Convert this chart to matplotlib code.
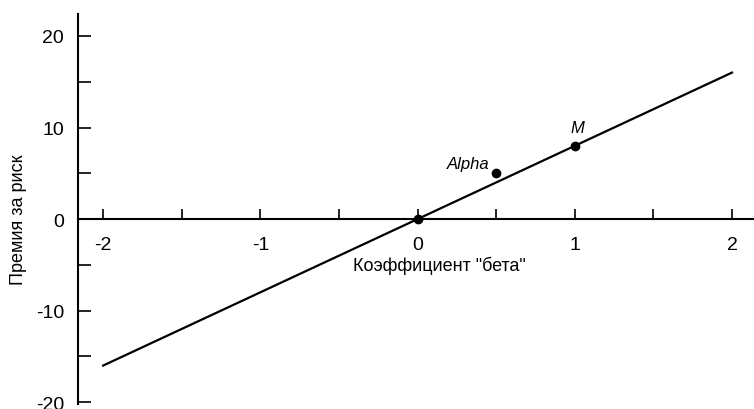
import matplotlib.pyplot as plt
from matplotlib.ticker import MultipleLocator

plt.rcParams['font.family'] = ['Liberation Sans Narrow', 'Liberation Sans', 'DejaVu Sans']
plt.rcParams['axes.unicode_minus'] = False

# data
line_x = [-2, 2]
line_y = [-16, 16]
points_x = [0, 0.5, 1]
points_y = [0, 5, 8]
point_names = ['', 'Alpha', 'M']

fig = plt.figure(figsize=(7.54, 4.10), dpi=100)
ax = fig.add_axes([78 / 754, 5 / 410, 676 / 754, 390 / 410])

ax.plot(line_x, line_y, color='black', lw=1.6)
ax.plot(points_x, points_y, 'o', color='black', ms=6)

# point labels
ax.annotate(point_names[1], (points_x[1], points_y[1]), textcoords='offset points',
            xytext=(-5, 2), ha='right', va='bottom', style='italic', fontsize=12)
ax.annotate(point_names[2], (points_x[2], points_y[2]), textcoords='offset points',
            xytext=(2, 8), ha='center', va='bottom', style='italic', fontsize=12)

ax.set_xlim(-2.16, 2.14)
ax.set_ylim(-20.2, 22.4)

ax.spines['top'].set_visible(False)
ax.spines['right'].set_visible(False)
ax.spines['bottom'].set_position(('data', 0))
ax.spines['left'].set_linewidth(1.5)
ax.spines['bottom'].set_linewidth(1.5)

ax.xaxis.set_major_locator(MultipleLocator(1))
ax.xaxis.set_minor_locator(MultipleLocator(0.5))
ax.yaxis.set_major_locator(MultipleLocator(10))
ax.yaxis.set_minor_locator(MultipleLocator(5))

ax.tick_params(axis='x', which='both', direction='in', length=7, width=1.2,
               labelsize=14, pad=12)
ax.tick_params(axis='y', which='both', direction='in', length=9, width=1.2,
               labelsize=14, pad=10)

ax.text(0.14, -4.0, 'Коэффициент "бета"', ha='center', va='top', fontsize=13)
ax.set_ylabel('Премия за риск', fontsize=13)
ax.yaxis.set_label_coords(-0.075, (0 + 20.2) / 42.6)

fig.savefig('out.png', dpi=100)
